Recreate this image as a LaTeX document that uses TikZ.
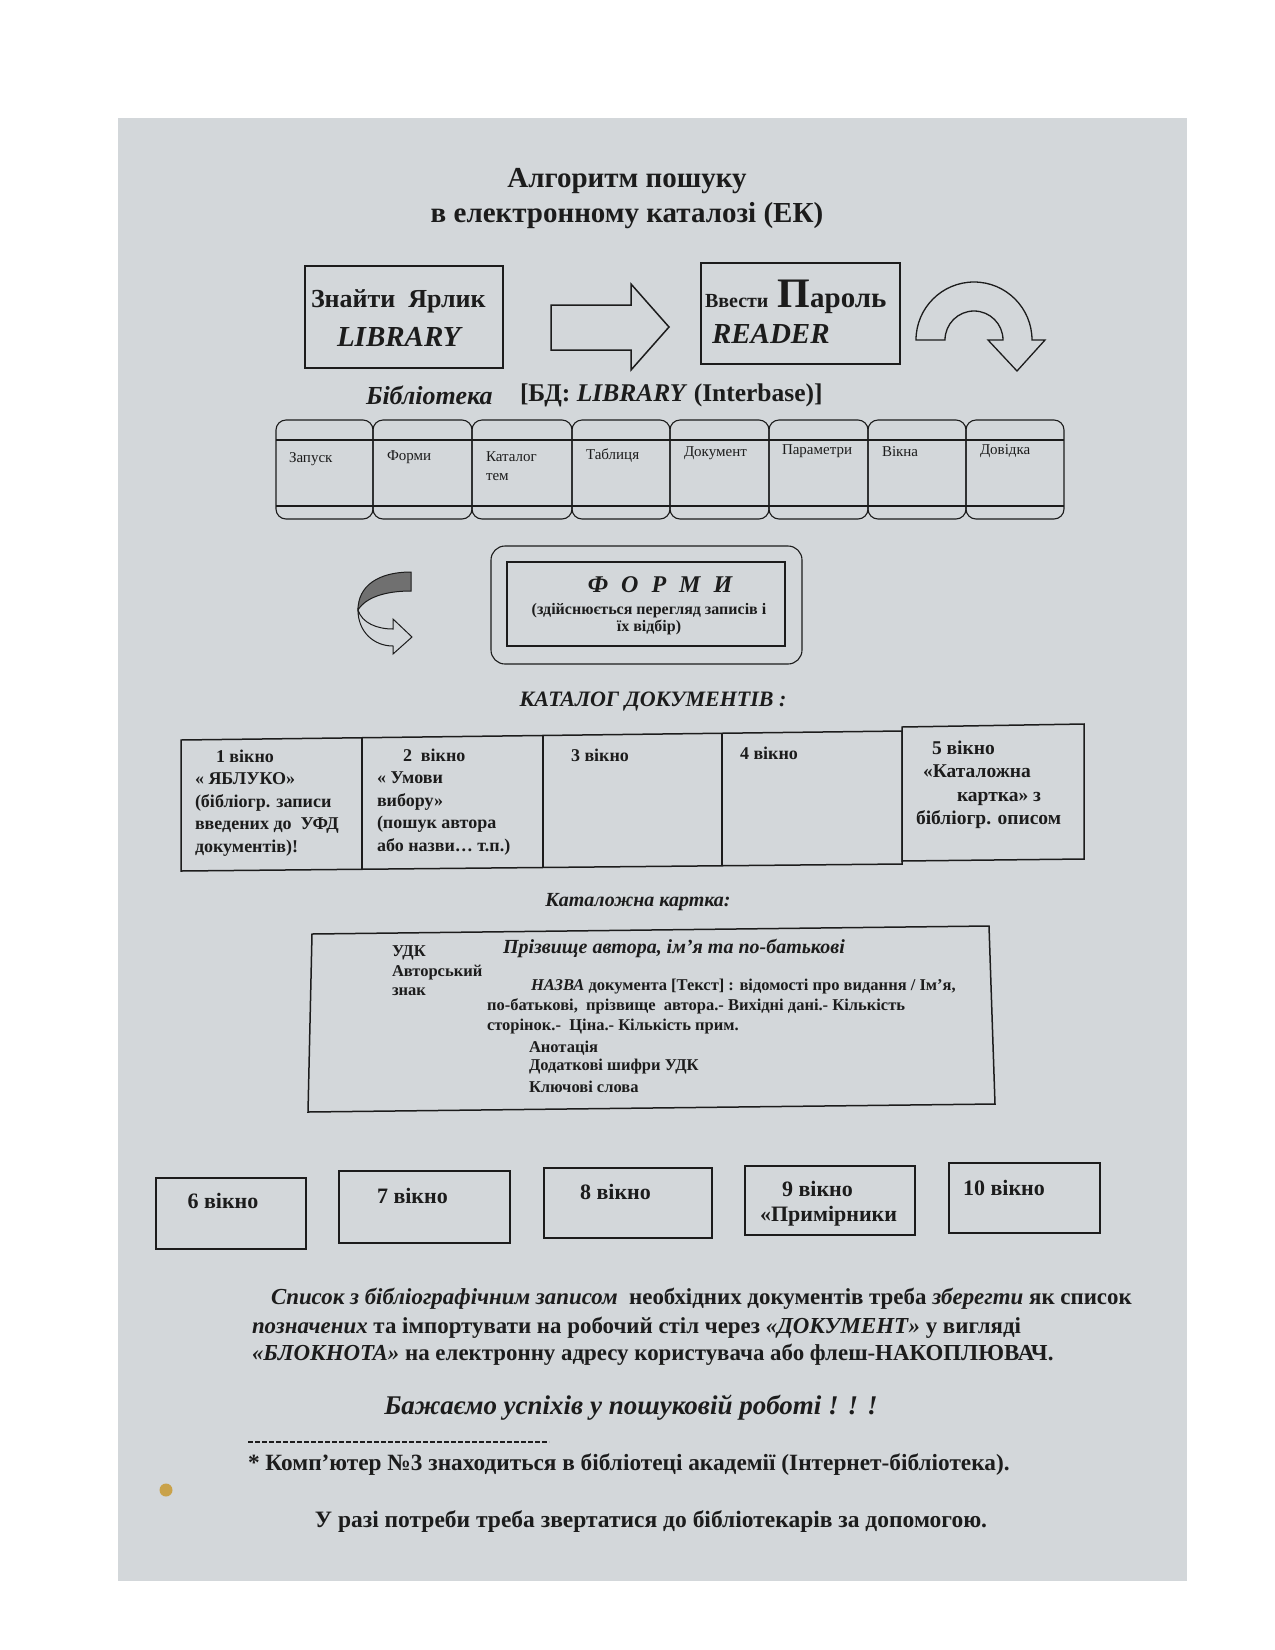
\documentclass[tikz,border=0pt]{standalone}
\usepackage{fontspec}
\setmainfont{Liberation Serif}
\definecolor{paper}{HTML}{D3D7DA}
\definecolor{ink}{HTML}{1C1C1C}
\definecolor{shade}{HTML}{707070}
\definecolor{spotc}{HTML}{C9A24A}
\newcommand\fsz[2]{\fontsize{#1}{#2}\selectfont}
\begin{document}
\begin{tikzpicture}[x=1pt,y=-1pt,
  every node/.style={inner sep=0pt,outer sep=0pt,text=ink},
  frame/.style={draw=ink,line width=1.5pt},
  thinline/.style={draw=ink,line width=1.1pt},
  lw/.style={anchor=west},
  cellfont/.style={font=\fsz{18}{22.5}\bfseries},
  cardfont/.style={font=\fsz{16.5}{19}\bfseries},
  menufont/.style={font=\fsz{15}{19}},
  winfont/.style={font=\fsz{22}{26}\bfseries},
  parafont/.style={font=\fsz{22.9}{27}\bfseries}]
\useasboundingbox (0,0) rectangle (1275,1650);
\fill[white] (0,0) rectangle (1275,1650);
\fill[paper] (118,118) rectangle (1187,1581);

% title
\node[font=\fsz{29}{35}\bfseries, align=center] (title) at (627,199) {Алгоритм пошуку\\в електронному каталозі (ЕК)};

% box 1
\node[frame, minimum width=198, minimum height=102] (find) at (404,317) {};
\node[lw, font=\fsz{26}{30}\bfseries] (findt) at (311,301) {Знайти\ \ Ярлик};
\node[lw, font=\fsz{29}{30}\bfseries\itshape] (lib) at (337,337) {LIBRARY};

% block arrow
\draw[frame, fill=paper] (551,305) -- (631,305) -- (631,284) -- (669,327) -- (631,370) -- (631,350) -- (551,350) -- cycle;

% box 2
\node[frame, minimum width=199, minimum height=101] (pass) at (800.5,313.5) {};
\node[lw] (passt) at (705,297) {{\fsz{20}{24}\bfseries Ввести}\hspace{9pt}{\fsz{42}{44}\bfseries П}{\fsz{29}{30}\bfseries ароль}};
\node[lw, font=\fsz{29}{30}\bfseries\itshape] (reader) at (712,334) {READER};

% U-turn arrow
\draw[draw=ink, line width=1.3pt, fill=paper] (916,340) arc[start angle=180,end angle=360,radius=58] -- (1045,340) -- (1017,371) -- (988,340) -- (1003,340) arc[start angle=360,end angle=180,radius=29] -- cycle;

% subtitle
\node[lw, font=\fsz{26}{28}\bfseries\itshape] (bib) at (366,395) {Бібліотека};
\node[lw, font=\fsz{25.5}{28}\bfseries] (bd) at (520,395) {[БД: \textit{LIBRARY} (Interbase)]};

% menu bar
\foreach \a/\b in {276/373,373/472,472/572,572/670,670/769,769/868,868/966,966/1064} {
  \draw[thinline, rounded corners=10] (\a,420) rectangle (\b,519);
  \draw[thinline] (\a,440) -- (\b,440);
  \draw[thinline] (\a,506) -- (\b,506);
}
\node[lw, menufont] (m1) at (289,459) {Запуск};
\node[lw, menufont] (m2) at (387,457) {Форми};
\node[lw, menufont, align=left] (m3) at (486,466) {Каталог\\тем};
\node[lw, menufont] (m4) at (586,456) {Таблиця};
\node[lw, menufont] (m5) at (684,453) {Документ};
\node[lw, menufont] (m6) at (782,451) {Параметри};
\node[lw, menufont] (m7) at (882,452) {Вікна};
\node[lw, menufont] (m8) at (980,451) {Довідка};

% curved arrow
\draw[draw=ink, line width=1pt, fill=shade] (411,572) .. controls (378,572) and (358,586) .. (358,610) .. controls (366,597) and (386,591) .. (411,591) -- cycle;
\draw[draw=ink, line width=1pt, fill=paper] (358,610) .. controls (358,632) and (374,646) .. (393,646) -- (393,654) -- (412,637) -- (393,619) -- (393,629) .. controls (377,629) and (362,623) .. (358,610) -- cycle;

% forms box
\node[thinline, rounded corners=14, minimum width=311, minimum height=118] (formsout) at (646.5,605) {};
\node[frame, minimum width=278, minimum height=84] (formsin) at (646,604) {};
\node[font=\fsz{24}{28}\bfseries\itshape] (formst) at (660,585) {Ф\hspace{13pt}О\hspace{13pt}Р\hspace{13pt}М\hspace{13pt}И};
\node[font=\fsz{16}{17.5}\bfseries, align=center] (formsd) at (649,619) {(здійснюється перегляд записів і\\їх відбір)};

% catalog
\node[font=\fsz{22}{26}\bfseries\itshape] (cat) at (653,702) {КАТАЛОГ ДОКУМЕНТІВ :};
\draw[frame] (181,740) -- (902,731) -- (902,864) -- (181,871) -- cycle;
\draw[frame] (362,737.7) -- (362,869.2);
\draw[frame] (543,735.5) -- (543,867.5);
\draw[frame] (722,733.2) -- (722,865.7);
\draw[frame] (902,727) -- (1084,724) -- (1084,859) -- (902,861) -- cycle;
\node[lw, cellfont, align=left] (w1) at (195,803) {\hspace*{21pt}1 вікно\\« ЯБЛУКО»\\(бібліогр. записи\\введених до\ \ УФД\\документів)!};
\node[lw, cellfont, align=left] (w2) at (377,802) {\hspace*{26pt}2\ \ вікно\\« Умови\\вибору»\\(пошук автора\\або назви… т.п.)};
\node[lw, cellfont] (w3) at (571,755) {3 вікно};
\node[lw, cellfont] (w4) at (740,753) {4 вікно};
\node[lw, font=\fsz{19.5}{23.5}\bfseries, align=left] (w5) at (916,785) {\hspace*{16pt}5 вікно\\\hspace*{7pt}«Каталожна\\\hspace*{41pt}картка» з\\бібліогр. описом};

% card
\node[font=\fsz{20}{22}\bfseries\itshape] (cardt) at (638,902) {Каталожна картка:};
\draw[frame] (312,934) -- (989,926) -- (995,1104) -- (308,1112) -- cycle;
\node[lw, cardfont] (c1) at (392,953) {УДК};
\node[lw, cardfont] (c2) at (392,973) {Авторський};
\node[lw, cardfont] (c3) at (392,992) {знак};
\node[lw, font=\fsz{20}{22}\bfseries\itshape] (c4) at (503,948) {Прізвище автора, ім’я та по-батькові};
\node[lw, cardfont] (c5) at (531,987) {\textit{НАЗВА} документа [Текст] : відомості про видання / Ім’я,};
\node[lw, cardfont] (c6) at (487,1006) {по-батькові,\ \ прізвище\ \ автора.- Вихідні дані.- Кількість};
\node[lw, cardfont] (c7) at (487,1027) {сторінок.-\ \ Ціна.- Кількість прим.};
\node[lw, cardfont] (c8) at (529,1048) {Анотація};
\node[lw, cardfont] (c9) at (529,1067) {Додаткові шифри УДК};
\node[lw, cardfont] (c10) at (529,1087) {Ключові слова};

% windows 6-10
\node[frame, minimum width=150, minimum height=71] (b6) at (231,1213.5) {};
\node[winfont] (b6t) at (223,1201) {6 вікно};
\node[frame, minimum width=171, minimum height=72] (b7) at (424.5,1207) {};
\node[lw, winfont] (b7t) at (377,1196) {7 вікно};
\node[frame, minimum width=168, minimum height=70] (b8) at (628,1203) {};
\node[lw, winfont] (b8t) at (580,1192) {8 вікно};
\node[frame, minimum width=170, minimum height=69] (b9) at (830,1200.5) {};
\node[lw, winfont] (b9t) at (782,1189) {9 вікно};
\node[lw, winfont] (b9u) at (760,1216) {«Примірники};
\node[frame, minimum width=151, minimum height=70] (b10) at (1024.5,1198) {};
\node[lw, winfont] (b10t) at (963,1188) {10 вікно};

% paragraph
\node[lw, parafont] (p1) at (271,1299) {\textit{Список з бібліографічним записом}\ \ необхідних документів треба \textit{зберегти} як список};
\node[lw, parafont] (p2) at (252,1328) {\textit{позначених} та імпортувати на робочий стіл через \textit{«ДОКУМЕНТ»} у вигляді};
\node[lw, parafont] (p3) at (252,1355) {\textit{«БЛОКНОТА»} на електронну адресу користувача або флеш-НАКОПЛЮВАЧ.};

\node[font=\fsz{27}{30}\bfseries\itshape] (wish) at (631,1408) {Бажаємо успіхів у пошуковій роботі ! ! !};
\coordinate (d1) at (248,1442);
\coordinate (d2) at (549,1442);
\draw[ink, line width=2pt, dash pattern=on 5pt off 2pt] (d1) -- (d2);
\node[lw, font=\fsz{23.3}{26}\bfseries] (note) at (248,1465) {* Комп’ютер №3 знаходиться в бібліотеці академії (Інтернет-бібліотека).};
\node[font=\fsz{23.5}{26}\bfseries] (help) at (651,1522) {У разі потреби треба звертатися до бібліотекарів за допомогою.};

\node[circle, fill=spotc, minimum size=13pt] (spot) at (166,1490) {};
\end{tikzpicture}
\end{document}
